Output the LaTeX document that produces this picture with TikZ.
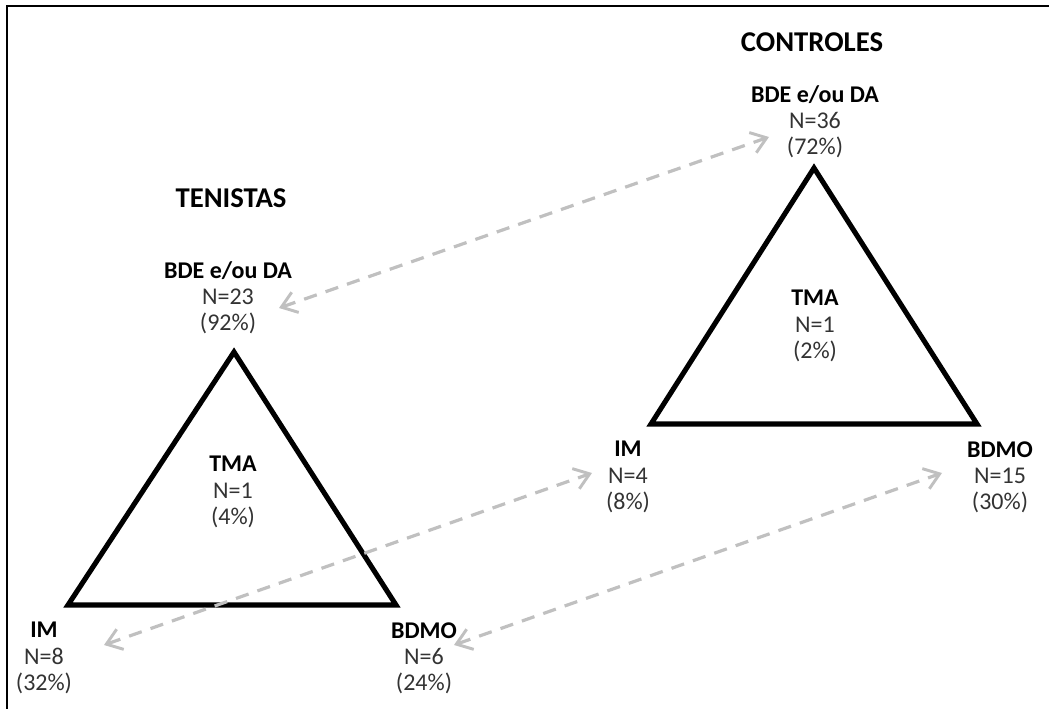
\documentclass[tikz,border=0pt]{standalone}
\usepackage{fontspec}
\setmainfont{Carlito}
\usetikzlibrary{arrows.meta}
\definecolor{linkgray}{RGB}{192,192,192}
\tikzset{
  tri/.style={line width=3.8pt, line join=miter},
  lbl/.style={align=center, inner sep=0pt, font=\fontsize{18}{19.6}\selectfont, text=black!80},
  ttl/.style={inner sep=0pt, font=\fontsize{21.5}{24}\selectfont\bfseries},
  link/.style={draw=linkgray, line width=2.4pt, dash pattern=on 10pt off 7pt,
    {Straight Barb[length=11pt,width=16pt,line width=2.2pt]}-{Straight Barb[length=11pt,width=16pt,line width=2.2pt]}},
  frame/.style={line width=1.6pt}
}
\begin{document}
\begin{tikzpicture}[x=0.75pt,y=-0.75pt]
\useasboundingbox (0,0) rectangle (1049,709);
% partial frame
\draw[frame] (7,709) -- (7,6) -- (1049,6);

% group titles
\node[ttl] (tCtl) at (812,42) {CONTROLES};
\node[ttl] (tTen) at (231,198) {TENISTAS};

% controls triangle
\coordinate (cA) at (814,168);
\coordinate (cL) at (651,424);
\coordinate (cR) at (977,424);
\draw[tri] (cA) -- (cL) -- (cR) -- cycle;

% athletes triangle
\coordinate (tA) at (234,352);
\coordinate (tL) at (68,605);
\coordinate (tR) at (396,605);
\draw[tri] (tA) -- (tL) -- (tR) -- cycle;

% controls labels
\node[lbl] (cTop) at (815,122) {\textbf{\color{black}BDE e/ou DA}\\N=36\\(72\%)};
\node[lbl] (cMid) at (815,326) {\textbf{\color{black}TMA}\\N=1\\(2\%)};
\node[lbl] (cIM) at (628,477) {\textbf{\color{black}IM}\\N=4\\(8\%)};
\node[lbl] (cBD) at (1000,477) {\textbf{\color{black}BDMO}\\N=15\\(30\%)};

% athletes labels
\node[lbl] (tTop) at (228,298) {\textbf{\color{black}BDE e/ou DA}\\N=23\\(92\%)};
\node[lbl] (tMid) at (233,492) {\textbf{\color{black}TMA}\\N=1\\(4\%)};
\node[lbl] (tIM) at (44,658) {\textbf{\color{black}IM}\\N=8\\(32\%)};
\node[lbl] (tBD) at (424,658) {\textbf{\color{black}BDMO}\\N=6\\(24\%)};

% link end points
\coordinate (e1a) at (279,308);
\coordinate (e1b) at (769,137);
\coordinate (e2a) at (104,645);
\coordinate (e2b) at (592,473);
\coordinate (e3a) at (454,645);
\coordinate (e3b) at (942,473);

\draw[link] (e1a) -- (e1b);
\draw[link] (e2a) -- (e2b);
\draw[link] (e3a) -- (e3b);
\end{tikzpicture}
\end{document}
